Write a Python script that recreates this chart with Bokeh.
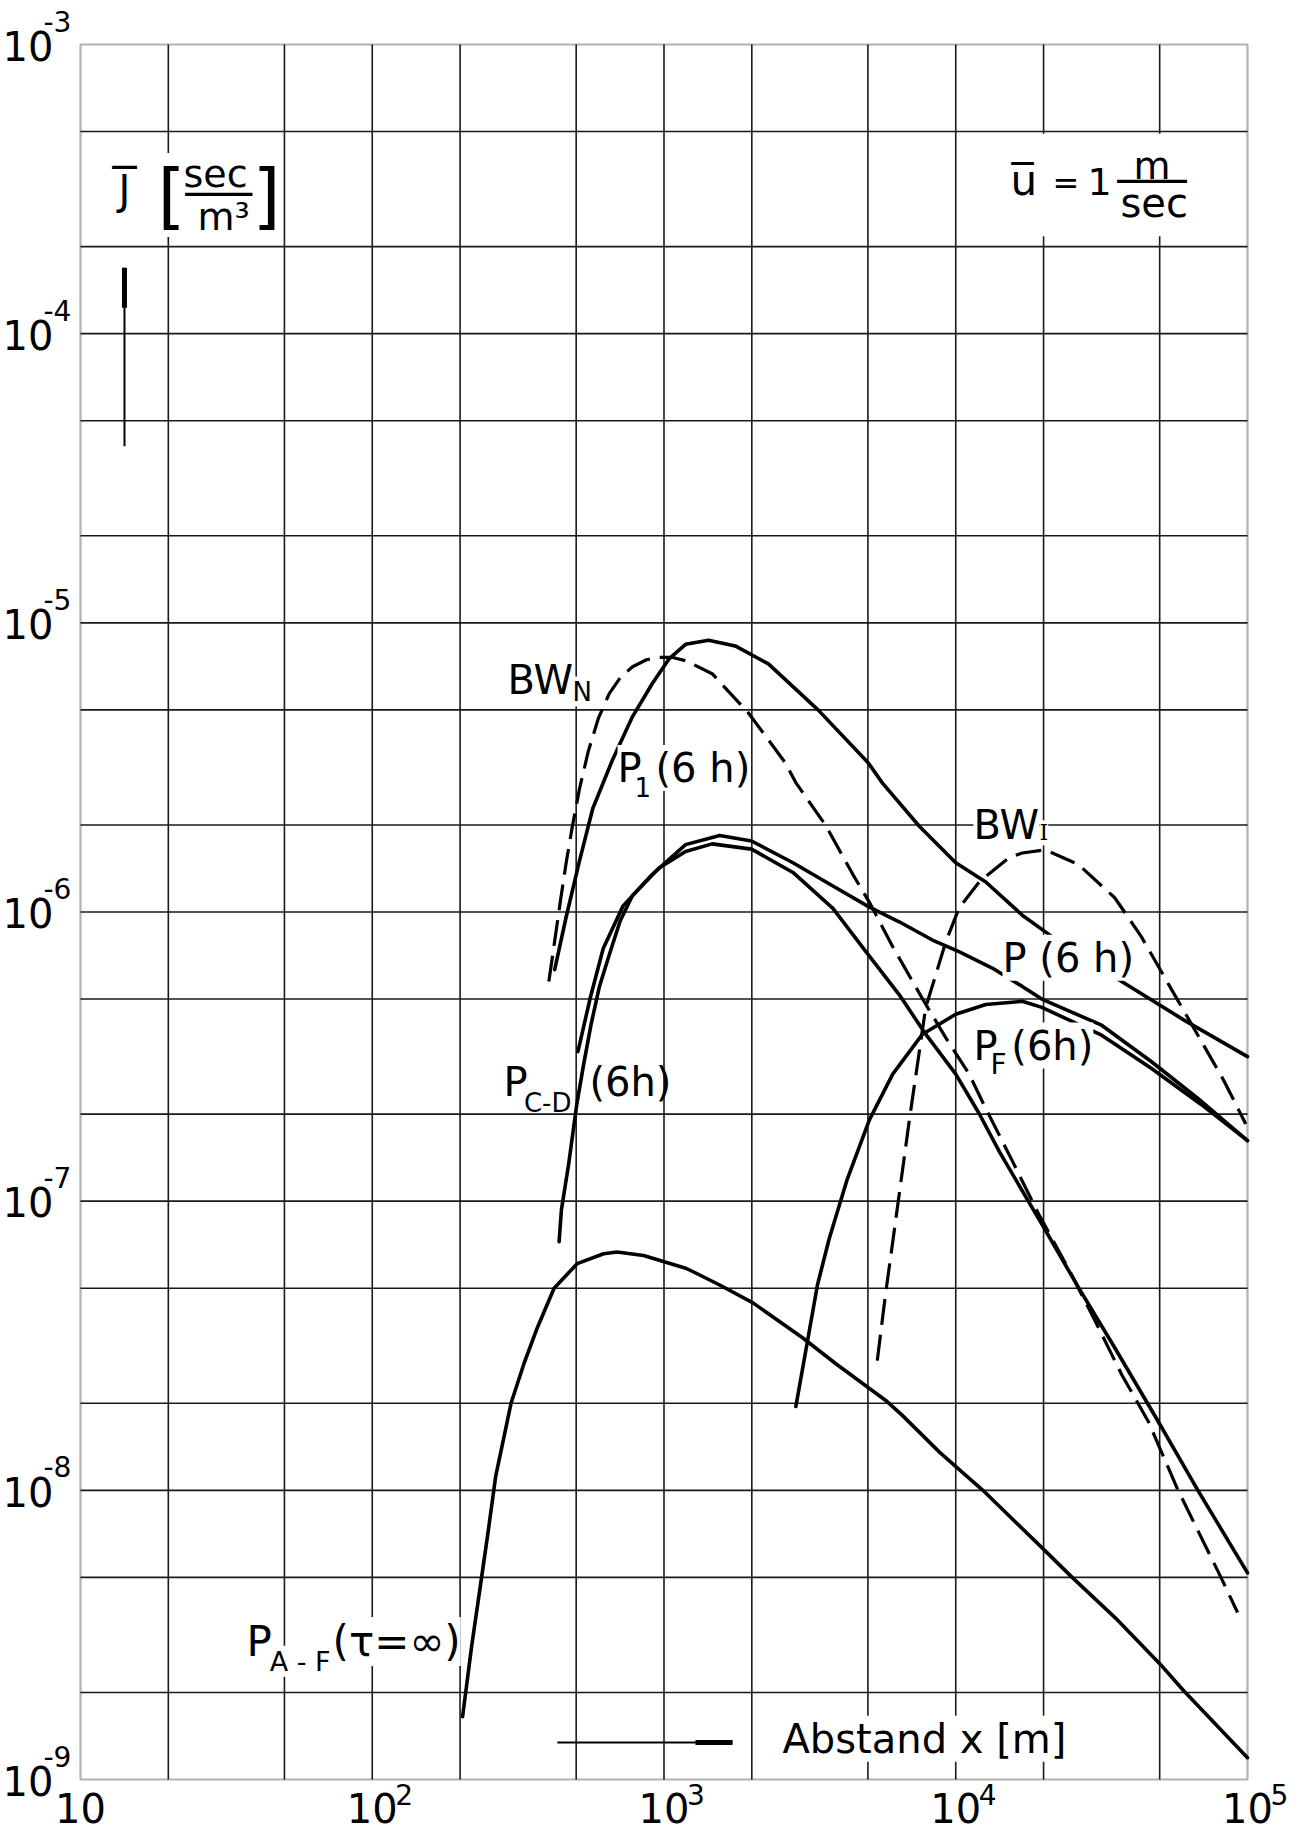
from bokeh.plotting import figure
from bokeh.models import Range1d, Label, Arrow, BoxAnnotation
from bokeh.embed import file_html
from bokeh.resources import INLINE

# ---------------------------------------------------------------------------
# Mean exposure J [sec/m^3] against distance x [m], mean wind 1 m/sec
# ---------------------------------------------------------------------------

# P1 (6 h)
p1_x = [422, 462, 513, 570, 667, 780, 912, 1040, 1186, 1422, 1754, 2280, 3373,
        5000, 5610, 7499, 10000, 12677, 16904, 21380, 37154, 60814, 100000]
p1_y = [6.32e-7, 9.61e-7, 1.50e-6, 2.28e-6, 3.37e-6, 4.74e-6, 6.17e-6, 7.50e-6,
        8.43e-6, 8.71e-6, 8.32e-6, 7.21e-6, 5.00e-6, 3.29e-6, 2.79e-6, 1.98e-6,
        1.48e-6, 1.27e-6, 9.75e-7, 8.22e-7, 5.74e-7, 4.22e-7, 3.16e-7]

# P (6 h)
p_x = [507, 558, 619, 724, 912, 1186, 1552, 1995, 2767, 3793, 5058, 6397, 8318,
       10257, 13335, 16904, 19724, 31623, 46774, 69343, 100000]
p_y = [3.29e-7, 5.02e-7, 7.48e-7, 1.05e-6, 1.35e-6, 1.71e-6, 1.84e-6, 1.76e-6,
       1.48e-6, 1.23e-6, 1.04e-6, 9.25e-7, 8.00e-7, 7.29e-7, 6.40e-7, 5.53e-7,
       5.00e-7, 4.06e-7, 3.04e-7, 2.22e-7, 1.62e-7]

# P C-D (6 h)
pcd_x = [437, 445, 471, 502, 530, 562, 600, 653, 708, 780, 962, 1186, 1462, 1995,
         2767, 3793, 4920, 6397, 7889, 10000, 12023, 14125, 19815, 26424, 35156,
         49431, 67608, 100000]
pcd_y = [7.24e-8, 9.33e-8, 1.34e-7, 2.15e-7, 2.96e-7, 4.07e-7, 5.50e-7, 7.24e-7,
         9.33e-7, 1.14e-6, 1.42e-6, 1.62e-6, 1.72e-6, 1.65e-6, 1.37e-6, 1.03e-6,
         7.29e-7, 5.18e-7, 3.78e-7, 2.75e-7, 2.01e-7, 1.48e-7, 8.26e-8, 5.00e-8,
         3.10e-8, 1.73e-8, 1.00e-8, 5.18e-9]

# P F (6 h)
pf_x = [2831, 3105, 3357, 3681, 4246, 5058, 6081, 7691, 10000, 12677, 16904,
        19724, 31623, 46774, 69343, 100000]
pf_y = [1.95e-8, 3.29e-8, 5.13e-8, 7.40e-8, 1.19e-7, 1.91e-7, 2.75e-7, 3.78e-7,
        4.43e-7, 4.79e-7, 4.91e-7, 4.68e-7, 3.75e-7, 2.88e-7, 2.16e-7, 1.62e-7]

# P A-F (tau = infinity)
paf_x = [204, 219, 237, 250, 265, 299, 331, 368, 420, 504, 621, 690, 851, 1194,
         1552, 2018, 2985, 3882, 5741, 6546, 8831, 12388, 19815, 25061, 35156,
         50119, 60117, 100000]
paf_y = [1.65e-9, 2.88e-9, 5.00e-9, 7.28e-9, 1.12e-8, 2.00e-8, 2.74e-8, 3.65e-8,
         5.00e-8, 6.08e-8, 6.58e-8, 6.67e-8, 6.49e-8, 5.85e-8, 5.13e-8, 4.45e-8,
         3.37e-8, 2.74e-8, 2.05e-8, 1.82e-8, 1.35e-8, 1.00e-8, 6.31e-9, 5.00e-9,
         3.63e-9, 2.51e-9, 2.04e-9, 1.19e-9]

# BW N (dashed)
bwn_x = [403, 422, 442, 462, 484, 513, 550, 596, 649, 708, 780, 871, 962, 1072,
         1186, 1462, 1950, 2600, 2838, 3597, 4437, 5058, 6081, 7691, 9247, 11117,
         12677, 15668, 19320, 24547, 30903, 37068, 45709, 57810, 81096, 92470]
bwn_y = [5.75e-7, 7.94e-7, 1.10e-6, 1.48e-6, 1.95e-6, 2.66e-6, 3.59e-6, 4.68e-6,
         5.69e-6, 6.46e-6, 7.05e-6, 7.45e-6, 7.60e-6, 7.59e-6, 7.40e-6, 6.67e-6,
         4.87e-6, 3.29e-6, 2.79e-6, 1.98e-6, 1.35e-6, 1.08e-6, 7.59e-7, 5.01e-7,
         3.67e-7, 2.75e-7, 2.09e-7, 1.37e-7, 8.95e-8, 5.75e-8, 3.64e-8, 2.51e-8,
         1.73e-8, 1.00e-8, 5.00e-9, 3.78e-9]

# BW I (dashed)
bwi_x = [5383, 5741, 6209, 6934, 7889, 9247, 10257, 12023, 15205, 16904, 20277,
         26303, 35075, 43251, 54828, 67608, 83176, 98628]
bwi_y = [2.81e-8, 4.74e-8, 8.43e-8, 1.91e-7, 4.67e-7, 7.89e-7, 1.03e-6, 1.27e-6,
         1.54e-6, 1.60e-6, 1.64e-6, 1.46e-6, 1.12e-6, 8.22e-7, 5.41e-7, 3.75e-7,
         2.60e-7, 1.85e-7]

# axes: decade labels and 1-2-5 grid
x_decades = [10, 100, 1000, 10000, 100000]
x_exponents = ["", "2", "3", "4", "5"]
y_decades = [1e-9, 1e-8, 1e-7, 1e-6, 1e-5, 1e-4, 1e-3]
y_exponents = ["-9", "-8", "-7", "-6", "-5", "-4", "-3"]
x_grid = [20, 50, 100, 200, 500, 1000, 2000, 5000, 10000, 20000, 50000]
y_grid = [2e-9, 5e-9, 1e-8, 2e-8, 5e-8, 1e-7, 2e-7, 5e-7, 1e-6, 2e-6, 5e-6,
          1e-5, 2e-5, 5e-5, 1e-4, 2e-4, 5e-4]

FONT = "DejaVu Sans"
INK = "black"
W, H = 1290, 1834
# margins of the diagram box inside the page, px
M_LEFT, M_RIGHT, M_TOP, M_BOTTOM = 80, 43, 44, 55
X_MIN, X_MAX = x_decades[0], x_decades[-1]
Y_MIN, Y_MAX = y_decades[0], y_decades[-1]
PX_X = (W - M_LEFT - M_RIGHT) / 4.0      # px per decade of x
PX_Y = (H - M_TOP - M_BOTTOM) / 6.0      # px per decade of J

# the plotting area spans the whole page so that the decade labels in the
# margins are drawn through the same log scales as the curves
p = figure(width=W, height=H, x_axis_type="log", y_axis_type="log",
           x_range=Range1d(X_MIN * 10 ** (-M_LEFT / PX_X), X_MAX * 10 ** (M_RIGHT / PX_X)),
           y_range=Range1d(Y_MIN * 10 ** (-M_BOTTOM / PX_Y), Y_MAX * 10 ** (M_TOP / PX_Y)),
           x_axis_location=None, y_axis_location=None,
           output_backend="svg", toolbar_location=None, min_border=0)
p.background_fill_color = "white"
p.border_fill_color = "white"
p.outline_line_color = None
p.grid.visible = False

# 1-2-5 grid and diagram box
grid = dict(line_color="#1a1a1a", line_width=1.6)
p.segment(x0=x_grid, y0=[Y_MIN] * len(x_grid), x1=x_grid, y1=[Y_MAX] * len(x_grid), **grid)
p.segment(x0=[X_MIN] * len(y_grid), y0=y_grid, x1=[X_MAX] * len(y_grid), y1=y_grid, **grid)
p.add_layout(BoxAnnotation(left=X_MIN, right=X_MAX, bottom=Y_MIN, top=Y_MAX,
                           fill_color=None, line_color=INK, line_width=2.2))


def lift(y, px):
    """Move a log-axis value up by px screen pixels."""
    return y * 10 ** (px / PX_Y)


def note(x, y, text, size=40, font=FONT, bg=True, dx=0, align="left"):
    # y is the wanted baseline; the text box sits ~0.37 em lower, so lift it
    p.add_layout(Label(x=x, y=lift(y, 0.37 * size), x_offset=dx, text=text,
                       text_font=font, text_font_size=f"{size}px", text_color=INK,
                       text_baseline="alphabetic", text_align=align,
                       background_fill_color="white" if bg else None))


# decade labels: "10" with its exponent set above-right
for xv, e in zip(x_decades, x_exponents):
    note(xv, lift(Y_MIN, -43), "10", bg=False, align="center")
    if e:
        note(xv, lift(Y_MIN, -25), e, size=28, bg=False, dx=23)
for yv, e in zip(y_decades, y_exponents):
    note(X_MIN, lift(yv, -16), "10", bg=False, dx=-27, align="right")
    note(X_MIN, lift(yv, 13), e, size=28, bg=False, dx=-37)

# curves
solid = dict(line_color=INK, line_width=3.6, line_join="round", line_cap="round")
dashed = dict(line_color=INK, line_width=3.2, line_dash="26 10", line_join="round")
p.line(paf_x, paf_y, **solid)
p.line(pcd_x, pcd_y, **solid)
p.line(p_x, p_y, **solid)
p.line(pf_x, pf_y, **solid)
p.line(p1_x, p1_y, **solid)
p.line(bwn_x, bwn_y, **dashed)
p.line(bwi_x, bwi_y, **dashed)

# quantity and unit in the upper left
note(13.5, 2.80e-4, "J")
note(12.87, 4.04e-4, "_", size=48, bg=False)
note(18.36, 2.44e-4, "[", size=72)
note(22.54, 3.18e-4, "sec", size=38, bg=False)
note(22.9, 3.26e-4, "___", size=48, bg=False)
note(25.18, 2.27e-4, "m³", size=38, bg=False)
note(38.86, 2.44e-4, "]", size=72)

# wind speed in the upper right
p.add_layout(BoxAnnotation(left=13684, right=69020, bottom=2.17e-4, top=4.91e-4,
                           fill_color="white", fill_alpha=1.0, line_color=None))
note(15405, 2.98e-4, "u", size=42, bg=False)
note(15527, 4.16e-4, "_", size=44, bg=False)
note(21463, 3.03e-4, "=", size=32, bg=False)
note(28290, 3.00e-4, "1", size=38, bg=False)
note(40662, 3.40e-4, "m", size=38, bg=False)
note(35843, 3.59e-4, "___", size=46, bg=False)
note(36703, 2.52e-4, "sec", size=40, bg=False)

# upward arrow under the quantity
p.add_layout(Arrow(x_start=14.15, y_start=4.08e-5, x_end=14.15, y_end=1.69e-4,
                   end=None, line_color=INK, line_width=2))
p.add_layout(Arrow(x_start=14.15, y_start=1.228e-4, x_end=14.15, y_end=1.69e-4,
                   end=None, line_color=INK, line_width=5))

# curve names
note(290.9, 5.64e-6, "BW")
note(485.8, 5.36e-6, "N", size=26)
note(692.9, 2.80e-6, "P")
note(792.4, 2.51e-6, "1", size=26)
note(935.2, 2.80e-6, "(6 h)")
note(281.8, 2.29e-7, "P", bg=False)
note(331.0, 2.03e-7, "C-D", size=26, bg=False)
note(555.0, 2.29e-7, "(6h)", bg=False)
note(11505, 1.78e-6, "BW")
note(19364, 1.76e-6, "I", size=22, font="DejaVu Serif")
note(14459, 6.17e-7, "P (6 h)")
note(11505, 3.07e-7, "P")
note(13150, 2.73e-7, "F", size=28)
note(15500, 3.07e-7, "(6h)")
note(37.07, 2.65e-9, "P", size=42)
note(44.5, 2.37e-9, "A - F", size=27)
note(73.07, 2.65e-9, "(τ=∞)", size=42)

# distance axis caption with its arrow
p.add_layout(Arrow(x_start=431, y_start=1.343e-9, x_end=1717, y_end=1.343e-9,
                   end=None, line_color=INK, line_width=2))
p.add_layout(Arrow(x_start=1282, y_start=1.343e-9, x_end=1717, y_end=1.343e-9,
                   end=None, line_color=INK, line_width=5))
note(2548, 1.23e-9, "Abstand  x  [m]")

open("out.html", "w").write(file_html(p, INLINE))
